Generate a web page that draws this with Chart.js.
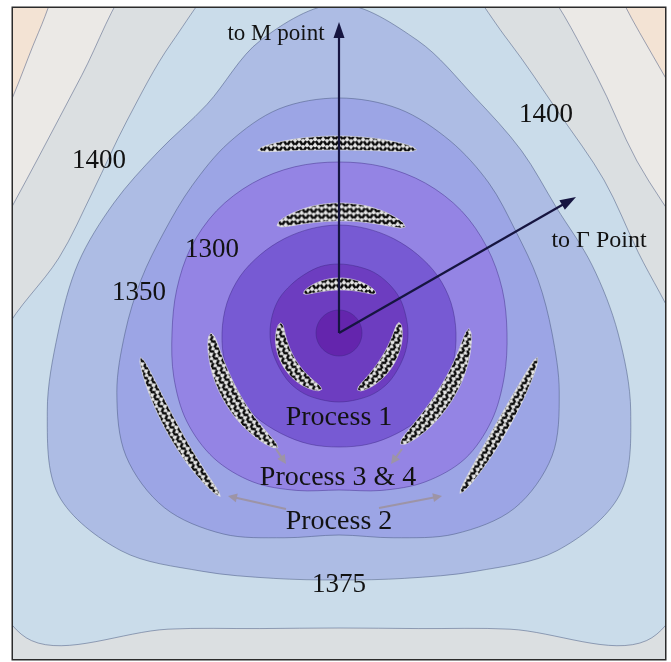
<!DOCTYPE html>
<html lang="en">
<head>
  <meta charset="UTF-8">
  <title>Contour</title>
  <style>
    html, body { margin: 0; padding: 0; background: #fff; }
    #wrap { width: 671px; height: 662px; }
  </style>
</head>
<body>
<div id="wrap"><canvas id="myChart" width="671" height="662"></canvas></div>
<script src="https://cdn.jsdelivr.net/npm/chart.js"></script>
<script>
  // sample directions, degrees clockwise from the "to M point" axis
  const angles = [0, 15, 30, 45, 60, 75, 90, 105, 120, 135, 150, 165, 180, 195, 210, 225, 240, 255, 270, 285, 300, 315, 330, 345];

  // contour radius along each direction, innermost first
  const core  = [23, 23, 23, 23, 23, 23, 23, 23, 23, 23, 23, 23, 23, 23, 23, 23, 23, 23, 23, 23, 23, 23, 23, 23];
  const ring2 = [69, 69, 70, 70, 70, 69, 69, 69, 69, 70, 70, 69, 69, 69, 70, 70, 69, 69, 69, 69, 69, 68, 68, 69];
  const ring3 = [108, 108, 109, 111, 114, 116, 117, 118, 118, 118, 116, 115, 114, 115, 116, 118, 118, 118, 117, 116, 114, 111, 109, 108];
  const c1300 = [171, 172, 173, 173, 171, 169, 168, 171, 176, 178, 172, 163, 157, 163, 172, 177, 176, 171, 167, 168, 171, 173, 173, 172];
  const c1350 = [235, 232, 222, 212, 204, 206, 213, 228, 246, 248, 232, 212, 202, 212, 232, 247, 246, 230, 214, 205, 202, 208, 220, 232];
  const c1375 = [329, 303, 272, 258, 251, 262, 279, 302, 324, 308, 275, 254, 247, 254, 275, 308, 324, 302, 281, 270, 260, 256, 264, 303];
  const c1400 = [400, 388, 338, 311, 306, 310, 340, 380, 420, 435, 342, 306, 295, 306, 342, 435, 420, 380, 335, 290, 284, 300, 335, 385];
  const outer1 = [480, 450, 405, 364, 344, 360, 400, 520, 520, 520, 520, 520, 520, 520, 520, 520, 520, 520, 390, 357, 348, 364, 411, 450];
  const outer2 = [560, 530, 475, 425, 412, 440, 560, 560, 560, 560, 560, 560, 560, 560, 560, 560, 560, 560, 560, 430, 398, 425, 492, 530];

  const levelNames = ['core', 'ring 2', 'ring 3', '1300', '1350', '1375', '1400', 'outer 1', 'outer 2'];
  const levelColors = ['#6425ad', '#6d3dc0', '#775ad3', '#9484e4', '#9ca5e5', '#adbce4', '#cadcea', '#dbdfe1', '#ebe9e6'];

  // hatched pockets: start / middle / end direction and radius, max thickness
  const pocketAngles = [[-24, 0, 23], [-30, 0, 32], [-42, 0, 43], [280, 239, 197], [80, 122, 162],
                        [270, 241, 208], [88, 122, 151], [263, 241, 216], [97, 120, 143]];
  const pocketRadii = [[200, 190, 199], [124, 121, 125], [53, 49, 54], [59, 58, 59], [61, 56, 60],
                       [128, 125, 130], [130, 123, 127], [200, 192, 202], [200, 188, 201]];
  const pocketWidth = [14, 18, 12, 14, 14, 17, 17, 13, 13];

  // arrows as offsets from the centre [fromX, fromY, toX, toY]
  const axisArrows = [[0, 0, 0, -311], [0, 0, 237, -136]];
  const processArrows = [[-63, 116, -53, 131], [63, 116, 52, 131], [-53, 176, -111, 163], [40, 175, 103, 163]];

  // text labels as offsets from the centre
  const labelText = ['to M point', 'to \u0393 Point', '1400', '1400', '1300', '1350', 'Process 1', 'Process 3 & 4', 'Process 2', '1375'];
  const labelX = [-63, 260, -240, 207, -127, -200, 0, -1, 0, 0];
  const labelY = [-293, -86, -165, -211, -76, -33, 92, 152, 196, 259];
  const labelSize = [23, 24, 27, 27, 27, 27, 28, 28, 28, 27];

  const radii = [core, ring2, ring3, c1300, c1350, c1375, c1400, outer1, outer2];

  // herringbone tile used for the pockets
  function makeHatch() {
    const tile = document.createElement('canvas');
    tile.width = 8;
    tile.height = 6;
    const t = tile.getContext('2d');
    t.fillStyle = '#e6e6e6';
    t.fillRect(0, 0, 8, 6);
    t.strokeStyle = '#080808';
    t.lineWidth = 2.5;
    t.lineCap = 'butt';
    t.beginPath();
    t.moveTo(0.5, 5.0); t.lineTo(3.2, 1.0);
    t.moveTo(4.8, 1.0); t.lineTo(7.5, 5.0);
    t.stroke();
    return tile;
  }
  const hatchTile = makeHatch();

  function quad(v, t) {
    return v[0] * (2 * t - 1) * (t - 1) + v[1] * 4 * t * (1 - t) + v[2] * t * (2 * t - 1);
  }

  const bgPlugin = {
    id: 'bg',
    beforeDraw(chart) {
      const {ctx, chartArea: a} = chart;
      ctx.save();
      ctx.fillStyle = '#ffffff';
      ctx.fillRect(0, 0, chart.width, chart.height);
      ctx.fillStyle = '#f3e3d4';
      ctx.fillRect(a.left, a.top, a.right - a.left, a.bottom - a.top);
      ctx.restore();
    }
  };

  const overlayPlugin = {
    id: 'overlay',
    afterDatasetsDraw(chart) {
      const {ctx, chartArea: a} = chart;
      const sc = chart.scales.r;
      const polar = (deg, v) => {
        const ang = (deg - 90) * Math.PI / 180;
        const d = sc.getDistanceFromCenterForValue(v);
        return {x: sc.xCenter + Math.cos(ang) * d, y: sc.yCenter + Math.sin(ang) * d};
      };
      const off = (dx, dy) => ({
        x: sc.xCenter + sc.getDistanceFromCenterForValue(dx),
        y: sc.yCenter + sc.getDistanceFromCenterForValue(dy)
      });

      ctx.save();
      ctx.beginPath();
      ctx.rect(a.left, a.top, a.right - a.left, a.bottom - a.top);
      ctx.clip();

      // hatched pockets
      pocketAngles.forEach((ang, k) => {
        const n = 40;
        const pts = [];
        for (let i = 0; i <= n; i++) {
          const t = i / n;
          pts.push(polar(quad(ang, t), quad(pocketRadii[k], t)));
        }
        const half = sc.getDistanceFromCenterForValue(pocketWidth[k]) / 2;
        const up = [], dn = [];
        for (let i = 0; i <= n; i++) {
          const p0 = pts[Math.max(0, i - 1)], p1 = pts[Math.min(n, i + 1)];
          let tx = p1.x - p0.x, ty = p1.y - p0.y;
          const len = Math.hypot(tx, ty) || 1;
          tx /= len; ty /= len;
          const h = half * Math.pow(Math.sin(Math.PI * i / n), 0.45);
          up.push({x: pts[i].x - ty * h, y: pts[i].y + tx * h});
          dn.push({x: pts[i].x + ty * h, y: pts[i].y - tx * h});
        }
        const pm0 = pts[n / 2 - 1], pm1 = pts[n / 2 + 1];
        let rot = Math.atan2(pm1.y - pm0.y, pm1.x - pm0.x) * 180 / Math.PI;
        if (rot > 90) rot -= 180;
        if (rot < -90) rot += 180;
        const pat = ctx.createPattern(hatchTile, 'repeat');
        pat.setTransform(new DOMMatrix().rotateSelf(rot));
        ctx.beginPath();
        up.forEach((p, i) => i ? ctx.lineTo(p.x, p.y) : ctx.moveTo(p.x, p.y));
        dn.reverse().forEach(p => ctx.lineTo(p.x, p.y));
        ctx.closePath();
        ctx.fillStyle = pat;
        ctx.fill();
        ctx.strokeStyle = 'rgba(230,230,230,0.8)';
        ctx.lineWidth = 0.8;
        ctx.stroke();
      });

      function arrow(s, color, lw, hl, hw) {
        const p = off(s[0], s[1]), q = off(s[2], s[3]);
        const ang = Math.atan2(q.y - p.y, q.x - p.x);
        const bx = q.x - Math.cos(ang) * hl, by = q.y - Math.sin(ang) * hl;
        ctx.strokeStyle = color;
        ctx.fillStyle = color;
        ctx.lineWidth = lw;
        ctx.beginPath();
        ctx.moveTo(p.x, p.y);
        ctx.lineTo(bx + Math.cos(ang) * 2, by + Math.sin(ang) * 2);
        ctx.stroke();
        ctx.beginPath();
        ctx.moveTo(q.x, q.y);
        ctx.lineTo(bx - Math.sin(ang) * hw, by + Math.cos(ang) * hw);
        ctx.lineTo(bx + Math.sin(ang) * hw, by - Math.cos(ang) * hw);
        ctx.closePath();
        ctx.fill();
      }
      processArrows.forEach(s => arrow(s, '#9d94a6', 2, 9, 4.5));
      axisArrows.forEach(s => arrow(s, '#161540', 2.2, 16, 5.5));

      // labels
      ctx.textAlign = 'center';
      ctx.textBaseline = 'alphabetic';
      ctx.fillStyle = '#121212';
      labelText.forEach((txt, i) => {
        const p = off(labelX[i], labelY[i]);
        ctx.font = labelSize[i] + 'px "Liberation Serif", "DejaVu Serif", serif';
        ctx.fillText(txt, p.x, p.y);
      });
      ctx.restore();

      // white margin round the plot, then the frame
      ctx.save();
      ctx.fillStyle = '#ffffff';
      ctx.fillRect(0, 0, chart.width, a.top);
      ctx.fillRect(0, a.bottom, chart.width, chart.height - a.bottom);
      ctx.fillRect(0, 0, a.left, chart.height);
      ctx.fillRect(a.right, 0, chart.width - a.right, chart.height);
      ctx.strokeStyle = '#2b2b2b';
      ctx.lineWidth = 1.5;
      ctx.strokeRect(a.left - 0.75, a.top - 0.75, a.right - a.left + 1.5, a.bottom - a.top + 1.5);
      ctx.restore();
    }
  };

  const ctx = document.getElementById('myChart');
  const myChart = new Chart(ctx, {
    type: 'radar',
    data: {
      labels: angles.map(a => a + '\u00b0'),
      datasets: radii.map((r, i) => ({
        label: levelNames[i],
        data: r,
        fill: true,
        clip: 0,
        backgroundColor: levelColors[i],
        borderColor: i < 4 ? 'rgba(60,40,130,0.45)' : 'rgba(70,85,125,0.5)',
        borderWidth: 1,
        tension: 0.33,
        pointRadius: 0,
        pointHitRadius: 0
      }))
    },
    options: {
      responsive: false,
      maintainAspectRatio: false,
      animation: false,
      events: [],
      layout: {
        padding: {left: 13, top: 8, right: 6, bottom: 3}
      },
      elements: {
        line: {capBezierPoints: false}
      },
      plugins: {
        legend: {display: false},
        tooltip: {enabled: false}
      },
      scales: {
        r: {
          min: 0,
          max: 325,
          startAngle: 0,
          ticks: {display: false},
          pointLabels: {display: false},
          grid: {display: false},
          angleLines: {display: false}
        }
      }
    },
    plugins: [bgPlugin, overlayPlugin]
  });
</script>
</body>
</html>
